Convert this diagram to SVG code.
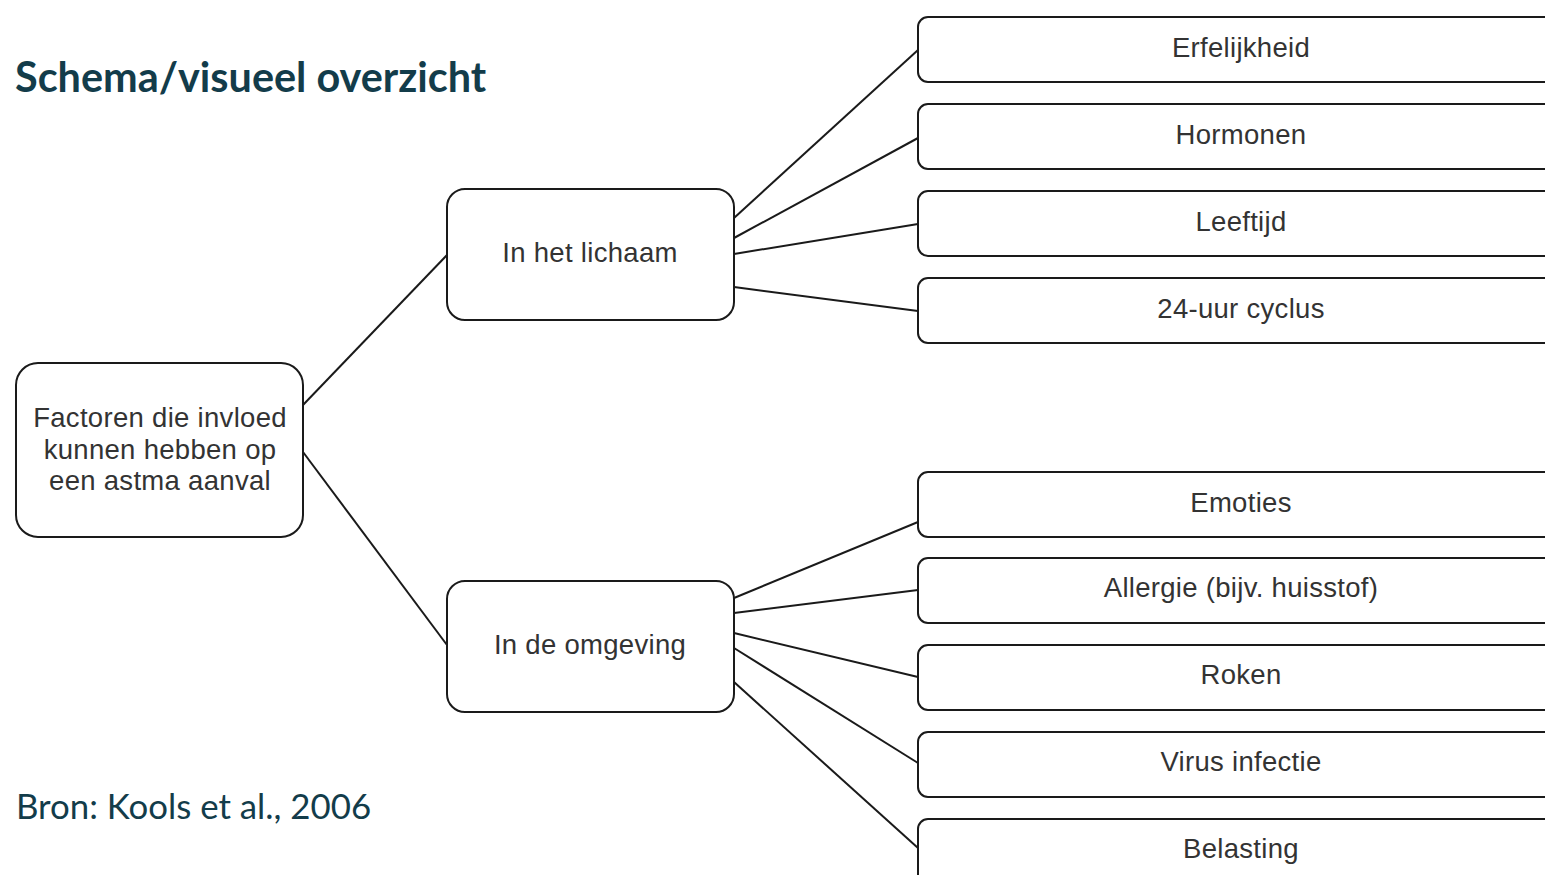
<svg xmlns="http://www.w3.org/2000/svg" width="1545" height="875" viewBox="0 0 1545 875">
<style>
.box{fill:#fff;stroke:#1a1a1a;stroke-width:2}
.lbl{font-family:"Liberation Sans",Arial,sans-serif;font-size:27.5px;fill:#333;text-anchor:middle;letter-spacing:0.3px}
.edge{stroke:#1a1a1a;stroke-width:2;fill:none}
.title{font-family:Lato,sans-serif;font-weight:bold;font-size:41.4px;fill:#133c4a}
.src{font-family:Lato,sans-serif;font-size:34.8px;fill:#133c4a}
</style>
<rect width="1545" height="875" fill="#fff"/>
<text class="title" x="15" y="92">Schema/visueel overzicht</text>
<text class="src" x="16" y="819">Bron: Kools et al., 2006</text>
<g id="connectors">
<line class="edge" x1="303" y1="405" x2="447" y2="255"/>
<line class="edge" x1="303" y1="452" x2="447" y2="645"/>
<line class="edge" x1="734" y1="218" x2="918" y2="50"/>
<line class="edge" x1="734" y1="238" x2="918" y2="138"/>
<line class="edge" x1="734" y1="254" x2="918" y2="224"/>
<line class="edge" x1="734" y1="287" x2="918" y2="311"/>
<line class="edge" x1="734" y1="598" x2="918" y2="522"/>
<line class="edge" x1="734" y1="613" x2="918" y2="590"/>
<line class="edge" x1="734" y1="633" x2="918" y2="677"/>
<line class="edge" x1="734" y1="648" x2="918" y2="763"/>
<line class="edge" x1="734" y1="682" x2="918" y2="848"/>
</g>
<g id="root">
<rect class="box" x="16" y="363" width="287" height="174" rx="22"/>
<text class="lbl" x="160" y="427">Factoren die invloed</text>
<text class="lbl" x="160" y="459">kunnen hebben op</text>
<text class="lbl" x="160" y="490">een astma aanval</text>
</g>
<g id="lichaam">
<rect class="box" x="447" y="189" width="287" height="131" rx="18"/>
<text class="lbl" x="590" y="262">In het lichaam</text>
</g>
<g id="omgeving">
<rect class="box" x="447" y="581" width="287" height="131" rx="18"/>
<text class="lbl" x="590" y="654">In de omgeving</text>
</g>
<g id="erfelijkheid">
<rect class="box" x="918" y="17" width="660" height="65" rx="10"/>
<text class="lbl" x="1241" y="57">Erfelijkheid</text>
</g>
<g id="hormonen">
<rect class="box" x="918" y="104" width="660" height="65" rx="10"/>
<text class="lbl" x="1241" y="144">Hormonen</text>
</g>
<g id="leeftijd">
<rect class="box" x="918" y="191" width="660" height="65" rx="10"/>
<text class="lbl" x="1241" y="231">Leeftijd</text>
</g>
<g id="cyclus">
<rect class="box" x="918" y="278" width="660" height="65" rx="10"/>
<text class="lbl" x="1241" y="318">24-uur cyclus</text>
</g>
<g id="emoties">
<rect class="box" x="918" y="472" width="660" height="65" rx="10"/>
<text class="lbl" x="1241" y="512">Emoties</text>
</g>
<g id="allergie">
<rect class="box" x="918" y="558" width="660" height="65" rx="10"/>
<text class="lbl" x="1241" y="597">Allergie (bijv. huisstof)</text>
</g>
<g id="roken">
<rect class="box" x="918" y="645" width="660" height="65" rx="10"/>
<text class="lbl" x="1241" y="684">Roken</text>
</g>
<g id="virus">
<rect class="box" x="918" y="732" width="660" height="65" rx="10"/>
<text class="lbl" x="1241" y="771">Virus infectie</text>
</g>
<g id="belasting">
<rect class="box" x="918" y="819" width="660" height="65" rx="10"/>
<text class="lbl" x="1241" y="858">Belasting</text>
</g>
</svg>
